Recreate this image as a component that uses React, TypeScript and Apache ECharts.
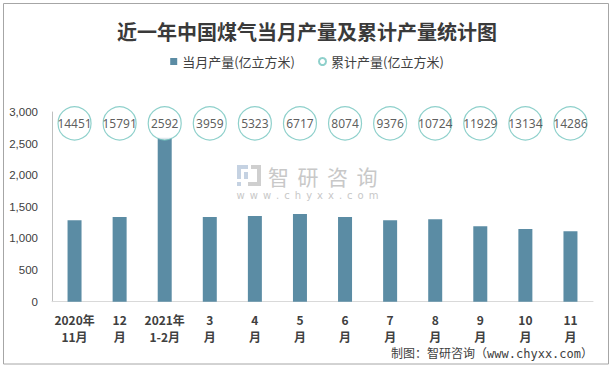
import React, { useEffect, useRef } from "react";
import * as echarts from "echarts";

const categories = [
  "2020年\n11月", "12\n月", "2021年\n1-2月", "3\n月", "4\n月", "5\n月",
  "6\n月", "7\n月", "8\n月", "9\n月", "10\n月", "11\n月",
];
const monthlyOutput = [1290, 1340, 2592, 1340, 1355, 1385, 1340, 1290, 1305, 1195, 1150, 1115];
const cumulativeOutput = [14451, 15791, 2592, 3959, 5323, 6717, 8074, 9376, 10724, 11929, 13134, 14286];
const yTicks = [0, 500, 1000, 1500, 2000, 2500, 3000];

const BUBBLE_LEVEL = 2820; // vertical placement of the cumulative bubbles (layout)

const SERIES_BAR = "当月产量(亿立方米)";
const SERIES_CUM = "累计产量(亿立方米)";
const CJK = "'Noto Sans CJK SC', 'Noto Sans', sans-serif";
const WATERMARK_CHARS = ["智", "研", "咨", "询"];

export default function App() {
  const ref = useRef<HTMLDivElement>(null);
  useEffect(() => {
    document.body.style.margin = "0";
    const chart = echarts.init(ref.current!, null, { renderer: "svg" });
    const option: any = {
      animation: false,
      backgroundColor: "#ffffff",
      title: {
        text: "近一年中国煤气当月产量及累计产量统计图",
        left: "center",
        top: 16,
        textStyle: { fontSize: 20, fontWeight: "bold", color: "#3a3a3a", fontFamily: CJK },
      },
      legend: {
        top: 50,
        left: "center",
        itemWidth: 7,
        itemHeight: 7,
        itemGap: 23,
        textStyle: { fontSize: 13, color: "#404040", fontFamily: CJK },
        data: [
          { name: SERIES_BAR, icon: "rect" },
          { name: SERIES_CUM, icon: "circle" },
        ],
      },
      grid: { left: 52, right: 21, top: 112, bottom: 66.3 },
      xAxis: {
        type: "category",
        data: categories,
        axisLine: { lineStyle: { color: "#d9d9d9" } },
        axisTick: { length: 5, lineStyle: { color: "#d9d9d9" } },
        axisLabel: {
          interval: 0,
          fontSize: 12,
          fontWeight: "bold",
          color: "#404040",
          lineHeight: 17,
          margin: 9,
          fontFamily: CJK,
        },
      },
      yAxis: {
        type: "value",
        min: yTicks[0],
        max: yTicks[yTicks.length - 1],
        interval: 500,
        axisLine: { show: true, lineStyle: { color: "#bfbfbf" } },
        axisTick: { show: false },
        splitLine: { show: false },
        axisLabel: {
          margin: 14,
          fontSize: 11.5,
          color: "#404040",
          fontFamily: "'Liberation Sans', Arial, sans-serif",
          formatter: (v: number) => v.toLocaleString("en-US"),
        },
      },
      series: [
        {
          name: SERIES_BAR,
          type: "bar",
          data: monthlyOutput,
          barWidth: 14,
          itemStyle: { color: "#5b8ca4" },
        },
        {
          name: SERIES_CUM,
          type: "scatter",
          data: cumulativeOutput.map((_, i) => [i, BUBBLE_LEVEL]),
          symbol: "circle",
          symbolSize: 33,
          z: 5,
          itemStyle: { color: "#ffffff", borderColor: "#72c4be", borderWidth: 1.2 },
          label: {
            show: true,
            position: "inside",
            color: "#333333",
            fontSize: 12,
            fontFamily: "'Noto Sans', sans-serif",
            formatter: (p: any) => String(cumulativeOutput[p.dataIndex]),
          },
        },
      ],
      graphic: [
        {
          type: "rect",
          shape: { x: 3.5, y: 3.5, width: 605, height: 360.5 },
          style: { fill: "none", stroke: "#a6a6a6", lineWidth: 1 },
          z: 0,
        },
        // watermark
        {
          type: "group",
          z: -1,
          silent: true,
          children: [
            { type: "rect", shape: { x: 237, y: 165, width: 11, height: 4 }, style: { fill: "#c5d2e2" } },
            { type: "rect", shape: { x: 237, y: 165, width: 4, height: 14 }, style: { fill: "#c5d2e2" } },
            { type: "rect", shape: { x: 244, y: 172, width: 4, height: 7 }, style: { fill: "#c5d2e2" } },
            { type: "rect", shape: { x: 237, y: 182, width: 4, height: 4 }, style: { fill: "#c5d2e2" } },
            { type: "rect", shape: { x: 251, y: 165, width: 10, height: 4 }, style: { fill: "#cfcfcf" } },
            { type: "rect", shape: { x: 257, y: 165, width: 4, height: 21 }, style: { fill: "#cfcfcf" } },
            { type: "rect", shape: { x: 248, y: 182, width: 13, height: 4 }, style: { fill: "#cfcfcf" } },
            ...WATERMARK_CHARS.map((ch, i) => ({
              type: "text",
              x: 268 + i * 29.5,
              y: 176,
              style: {
                text: ch,
                fill: "#c8c8c8",
                fontSize: 21,
                fontFamily: CJK,
                verticalAlign: "middle",
              },
            })),
            {
              type: "text",
              x: 307.5,
              y: 195,
              style: {
                text: "w\u2002w\u2002w\u2002.\u2002c\u2002h\u2002y\u2002x\u2002x\u2002.\u2002c\u2002o\u2002m",
                fill: "#c8c8c8",
                fontSize: 10,
                fontFamily: "'DejaVu Sans', sans-serif",
                align: "center",
                verticalAlign: "middle",
              },
            },
          ],
        },
        {
          type: "text",
          x: 593,
          y: 353.5,
          style: {
            text: "制图：智研咨询（www.chyxx.com）",
            fill: "#404040",
            fontSize: 12,
            fontFamily: "'DejaVu Sans Mono', 'Noto Sans CJK SC', monospace",
            align: "right",
            verticalAlign: "middle",
          },
        },
      ],
    };
    chart.setOption(option);
    return () => chart.dispose();
  }, []);
  return <div ref={ref} style={{ position: "fixed", left: 0, top: 0, width: 614, height: 368 }} />;
}
